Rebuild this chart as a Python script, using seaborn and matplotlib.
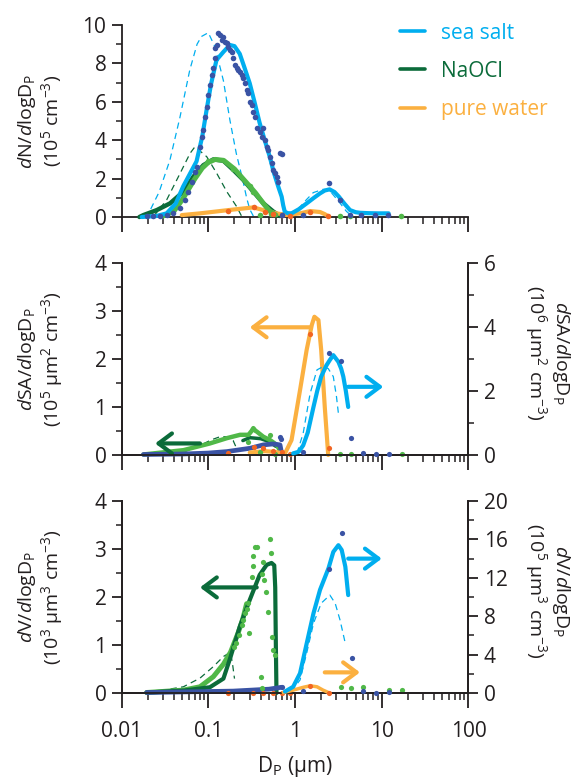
import numpy as np
import pandas as pd
import seaborn as sns
import matplotlib.pyplot as plt
from matplotlib.lines import Line2D
from matplotlib.ticker import LogLocator, MultipleLocator, NullFormatter, FixedLocator

# colours
SEA = "#00aeef"
SEA_DOT = "#3a53a4"
NAOCL = "#0b6b3a"
NAOCL_LT = "#50b848"
WATER = "#fbb040"
WATER_DOT = "#f26522"
INK = "#231f20"

# ---------------- top panel: number (10^5 cm^-3) ----------------
n_ss_fit_d = [0.017, 0.025, 0.033, 0.042, 0.051, 0.062, 0.073, 0.085, 0.0955, 0.107, 0.124, 0.149,
              0.177, 0.2, 0.23, 0.26, 0.30, 0.34, 0.39, 0.45, 0.51, 0.57, 0.64, 0.70, 0.73, 0.76,
              0.82, 0.91, 1.1, 1.36, 1.65, 1.94, 2.2, 2.5, 2.85, 3.2, 3.7, 4.3, 5.0, 5.6, 7, 9, 12]
n_ss_fit_v = [0.0, 0.05, 0.19, 0.7, 1.58, 2.3, 2.9, 4.2, 5.6, 6.9, 8.18, 8.6,
              8.96, 8.9, 8.5, 7.8, 6.96, 6.0, 4.9, 3.95, 3.14, 2.3, 1.58, 1.06, 0.6, 0.28,
              0.2, 0.19, 0.4, 0.71, 1.0, 1.23, 1.38, 1.44, 1.3, 1.06, 0.7, 0.36, 0.25, 0.22, 0.2, 0.19, 0.19]
n_ss_mod1_d = [0.018, 0.021, 0.027, 0.036, 0.047, 0.061, 0.074, 0.083, 0.0997, 0.119, 0.149, 0.177,
               0.21, 0.25, 0.276, 0.30, 0.33]
n_ss_mod1_v = [0.0, 0.3, 1.3, 2.97, 5.2, 7.66, 9.0, 9.4, 9.6, 8.87, 7.1, 5.05, 3.3, 1.9, 1.0, 0.4, 0.05]
n_ss_mod2_d = [0.9, 1.13, 1.35, 1.62, 2.1, 2.4, 2.7, 3.2, 3.9, 4.5]
n_ss_mod2_v = [0.0, 0.5, 0.9, 1.27, 1.44, 1.42, 1.2, 0.8, 0.3, 0.05]
n_ss_obs_d = [0.0194, 0.0232, 0.0277, 0.033, 0.0395, 0.0471, 0.0538, 0.0588, 0.0642, 0.0702, 0.0733,
              0.080, 0.0838, 0.0875, 0.0916, 0.0957, 0.1, 0.1045, 0.109, 0.114, 0.119, 0.119, 0.125,
              0.130, 0.136, 0.1425, 0.149, 0.156, 0.163, 0.170, 0.178, 0.186, 0.194, 0.203, 0.212,
              0.222, 0.232, 0.243, 0.253, 0.265, 0.277, 0.290, 0.303, 0.316, 0.330, 0.345, 0.361,
              0.394, 0.412, 0.431, 0.451, 0.471, 0.492, 0.515, 0.538, 0.562, 0.588, 0.614, 0.642,
              0.671, 0.702, 0.70, 1.25, 2.43, 3.3, 4.3, 5.8, 8.3, 11.9]
n_ss_obs_v = [0.03, 0.03, 0.05, 0.1, 0.19, 0.45, 0.89, 1.32, 1.84, 2.36, 2.62,
              3.66, 4.18, 4.53, 5.23, 5.75, 6.35, 6.88, 7.4, 7.74, 8.26, 8.78, 8.96,
              9.57, 9.48, 9.22, 9.39, 9.13, 9.05, 8.87, 8.7, 8.61, 8.26, 7.92, 7.74,
              7.66, 7.57, 7.4, 7.22, 6.96, 6.61, 6.44, 6.0, 5.83, 5.49, 5.23, 4.62,
              4.44, 4.18, 4.62, 4.01, 3.66, 3.49, 3.14, 2.8, 2.45, 2.27, 2.1, 1.84,
              3.32, 3.30, 0.1, 0.1, 1.79, 0.89, 0.12, 0.1, 0.1, 0.1]
n_na_fit_d = [0.016, 0.0178, 0.0254, 0.0361, 0.0515, 0.0671, 0.0875, 0.114, 0.149, 0.194, 0.253,
              0.33, 0.431, 0.562, 0.671]
n_na_fit_v = [0.0, 0.1, 0.36, 0.71, 1.32, 2.1, 2.7, 3.0, 2.93, 2.45, 1.93, 1.32, 0.71, 0.28, 0.05]
n_na_obs_d = [0.03, 0.04, 0.05, 0.06, 0.07, 0.085, 0.1, 0.12, 0.15, 0.2, 0.25, 0.3, 0.35, 0.4,
              0.45, 0.5, 0.6]
n_na_obs_v = [0.05, 0.3, 0.9, 1.5, 2.0, 2.55, 2.85, 3.0, 2.95, 2.5, 2.0, 1.6, 1.25, 0.9, 0.6, 0.35, 0.1]
n_na_mod_d = [0.0232, 0.033, 0.0471, 0.0615, 0.07, 0.0957, 0.125, 0.163, 0.212, 0.243]
n_na_mod_v = [0.02, 0.89, 2.27, 3.32, 3.66, 3.14, 2.27, 1.32, 0.54, 0.02]
n_na_dot_d = [0.1, 0.194, 0.3, 0.33, 0.39, 0.53, 3.3, 4.3, 16.5]
n_na_dot_v = [2.9, 2.5, 1.6, 1.3, 0.12, 0.18, 0.05, 0.05, 0.05]
n_pw_fit_d = [0.0493, 0.08, 0.17, 0.33, 0.43, 0.614, 0.8, 1.14, 1.49, 1.94, 2.2, 2.45]
n_pw_fit_v = [0.1, 0.19, 0.36, 0.5, 0.36, 0.19, 0.1, 0.19, 0.31, 0.26, 0.15, 0.02]
n_pw_obs_d = [0.17, 0.335, 0.45, 0.56, 0.70, 0.88, 1.49, 2.4]
n_pw_obs_v = [0.33, 0.5, 0.28, 0.16, 0.1, 0.07, 0.28, 0.05]

# ---------------- middle panel: surface ----------------
# left axis (10^5 um^2 cm^-3)
s_pw_fit_d = [0.3, 0.45, 0.6, 0.7, 0.764, 0.91, 1.14, 1.36, 1.56, 1.67, 1.86, 2.0, 2.2, 2.41]
s_pw_fit_v = [0.05, 0.08, 0.06, 0.04, 0.03, 0.31, 1.35, 2.19, 2.71, 2.88, 2.81, 2.19, 1.0, 0.0]
s_pw_obs_d = [0.17, 0.335, 0.43, 0.56, 0.70, 0.88, 1.49, 2.43]
s_pw_obs_v = [0.05, 0.17, 0.14, 0.09, 0.06, 0.03, 2.51, 0.14]
s_na_obs_d = [0.0178, 0.0515, 0.104, 0.163, 0.232, 0.29, 0.315, 0.33, 0.35, 0.36, 0.43, 0.515, 0.614, 0.7]
s_na_obs_v = [0.01, 0.1, 0.24, 0.35, 0.42, 0.42, 0.5, 0.56, 0.5, 0.49, 0.38, 0.31, 0.21, 0.03]
s_na_fit_d = [0.25, 0.3, 0.4, 0.5, 0.6]
s_na_fit_v = [0.3, 0.36, 0.34, 0.28, 0.18]
s_na_mod_d = [0.03, 0.047, 0.08, 0.11, 0.136, 0.16, 0.193, 0.21]
s_na_mod_v = [0.0, 0.03, 0.2, 0.32, 0.38, 0.38, 0.3, 0.15]
s_na_dot_d = [0.29, 0.39, 0.515, 0.58, 3.3, 4.4, 17.2]
s_na_dot_v = [0.28, 0.07, 0.42, 0.03, 0.03, 0.03, 0.03]
s_ss_low_d = [0.0178, 0.05, 0.1, 0.163, 0.303, 0.43, 0.56, 0.67, 0.7]
s_ss_low_v = [0.01, 0.02, 0.04, 0.07, 0.14, 0.21, 0.23, 0.21, 0.03]
# right axis (10^6 um^2 cm^-3)
s_ss_fit_d = [0.95, 1.1, 1.24, 1.4, 1.63, 1.8, 2.0, 2.3, 2.52, 2.76, 3.16, 3.4, 3.6, 3.85, 4.1]
s_ss_fit_v = [0.05, 0.1, 0.3, 0.7, 1.5, 2.0, 2.45, 2.8, 2.97, 3.12, 2.91, 2.7, 2.45, 2.0, 1.5]
s_ss_mod_d = [1.05, 1.24, 1.49, 1.79, 2.1, 2.41, 2.76, 3.0, 3.16]
s_ss_mod_v = [0.05, 0.68, 1.92, 2.66, 2.76, 2.7, 2.45, 1.83, 1.3]
s_ss_obs_d = [0.67, 0.69, 1.25, 2.43, 3.35, 4.4, 6.1, 8.6, 12.2]
s_ss_obs_v = [0.55, 0.5, 0.1, 3.2, 2.95, 0.52, 0.05, 0.03, 0.03]

# ---------------- bottom panel: volume ----------------
# left axis (10^3 um^3 cm^-3)
v_na_fit_d = [0.0194, 0.0515, 0.104, 0.149, 0.18, 0.23, 0.30, 0.39, 0.47, 0.535, 0.575, 0.59, 0.6, 0.61]
v_na_fit_v = [0.01, 0.05, 0.12, 0.3, 0.75, 1.38, 1.94, 2.46, 2.67, 2.71, 2.66, 2.2, 1.0, 0.0]
v_na_obs_d = [0.0194, 0.0515, 0.08, 0.114, 0.149, 0.18, 0.22, 0.25, 0.276]
v_na_obs_v = [0.01, 0.06, 0.13, 0.34, 0.6, 0.85, 1.25, 1.55, 1.86]
v_na_mod_d = [0.021, 0.0515, 0.08, 0.114, 0.149, 0.18, 0.19, 0.2]
v_na_mod_v = [0.01, 0.13, 0.31, 0.55, 0.76, 0.85, 0.6, 0.3]
v_na_dot_d = [0.343, 0.361, 0.515, 0.33, 0.43, 0.53, 0.33, 0.316, 0.41, 0.44, 0.46, 0.29, 0.277,
              0.265, 0.253, 0.243, 0.297, 0.49, 0.54, 0.56, 0.59, 0.4, 0.41, 0.2, 0.21, 0.225,
              3.4, 4.4, 6.1, 12.2, 17.2]
v_na_dot_v = [3.05, 3.05, 3.2, 2.85, 2.74, 2.92, 2.65, 2.42, 2.49, 2.35, 2.11, 1.87, 1.76,
              1.66, 1.52, 1.42, 1.24, 1.69, 1.17, 0.9, 0.79, 0.34, 0.1, 0.95, 1.05, 1.2,
              0.12, 0.1, 0.13, 0.07, 0.07]
v_ss_low_d = [0.0194, 0.194, 0.5, 0.70]
v_ss_low_v = [0.01, 0.04, 0.08, 0.12]
v_pw_obs_d = [0.17, 0.33, 0.43, 0.56, 0.7, 0.88]
v_pw_obs_v = [0.01, 0.01, 0.01, 0.01, 0.01, 0.01]
# right axis (10^5 um^3 cm^-3)
v_ss_fit_d = [0.764, 0.95, 1.14, 1.36, 1.63, 1.94, 2.43, 2.76, 3.16, 3.45, 3.8, 4.1]
v_ss_fit_v = [0.15, 0.65, 2.05, 5.15, 8.3, 10.75, 13.0, 14.7, 15.4, 14.9, 13.15, 10.2]
v_ss_mod_d = [0.9, 1.14, 1.36, 1.63, 2.0, 2.52, 2.9, 3.3, 3.8]
v_ss_mod_v = [0.15, 1.35, 4.15, 7.25, 9.35, 10.2, 9.35, 7.6, 5.15]
v_ss_obs_d = [0.7, 1.25, 2.43, 3.45, 4.5, 6.1, 8.6, 12.2]
v_ss_obs_v = [0.65, 0.2, 12.9, 16.7, 3.6, 0.25, 0.05, 0.1]
v_pw_fit_d = [0.73, 0.95, 1.25, 1.49, 1.79, 2.1, 2.43]
v_pw_fit_v = [0.05, 0.3, 0.6, 0.75, 0.65, 0.3, 0.05]
v_pw_dot_d = [1.49, 2.43]
v_pw_dot_v = [0.75, 0.05]

# arrows: (D start, D end, level)
s_arrow_pw = (1.49, 0.30, 2.66)
s_arrow_na = (0.08, 0.0243, 0.24)
s_arrow_ss = (4.1, 10.4, 2.13)      # right axis
v_arrow_na = (0.361, 0.08, 2.2)
v_arrow_ss = (4.1, 10.0, 14.0)      # right axis
v_arrow_pw = (2.2, 5.6, 2.15)       # right axis

sns.set_style("ticks")
plt.rcParams["font.family"] = ["Open Sans", "DejaVu Sans"]
plt.rcParams["mathtext.fontset"] = "custom"
plt.rcParams["mathtext.rm"] = "Open Sans"
plt.rcParams["mathtext.it"] = "Open Sans:italic"
plt.rcParams["mathtext.bf"] = "Open Sans:bold"
plt.rcParams["text.color"] = INK
plt.rcParams["axes.edgecolor"] = INK
plt.rcParams["xtick.color"] = INK
plt.rcParams["ytick.color"] = INK


def curve(ax, d, v, color, lw, dashed=False, z=2):
    ls = (0, (5, 3.5)) if dashed else "-"
    sns.lineplot(x=d, y=v, ax=ax, color=color, linewidth=lw, sort=False, estimator=None,
                 linestyle=ls, zorder=z, clip_on=False)


def dots(ax, d, v, color, s=14, z=4):
    sns.scatterplot(x=d, y=v, ax=ax, color=color, s=s, linewidth=0, zorder=z, clip_on=False)


def arrow(ax, spec, color):
    d0, d1, lvl = spec
    ax.annotate("", xy=(d1, lvl), xytext=(d0, lvl),
                arrowprops=dict(arrowstyle="->,head_length=0.6,head_width=0.45",
                                color=color, lw=3, mutation_scale=16, shrinkA=0, shrinkB=0),
                zorder=5)


def style_x(ax, labels=False):
    ax.set_xscale("log")
    ax.set_xlim(0.01, 100)
    ax.xaxis.set_major_locator(FixedLocator([0.01, 0.1, 1, 10, 100]))
    ax.xaxis.set_minor_locator(LogLocator(base=10, subs=np.arange(2, 10), numticks=20))
    ax.xaxis.set_minor_formatter(NullFormatter())
    ax.tick_params(axis="x", which="major", length=11, width=1.3, direction="out", pad=9,
                   labelsize=15)
    ax.tick_params(axis="x", which="minor", length=5, width=1.1, direction="out")
    if labels:
        ax.set_xticklabels(["0.01", "0.1", "1", "10", "100"])
    else:
        ax.set_xticklabels([])
    ax.set_xlabel("")


def style_y(ax, top, major, minor, side="left"):
    ax.set_ylim(0, top)
    ax.yaxis.set_major_locator(MultipleLocator(major))
    ax.yaxis.set_minor_locator(MultipleLocator(minor))
    ax.tick_params(axis="y", which="major", length=7, width=1.3, direction="out", pad=4,
                   labelsize=15)
    ax.tick_params(axis="y", which="minor", length=4, width=1.1, direction="out")
    ax.set_ylabel("")
    for sp in ax.spines.values():
        sp.set_linewidth(1.3)


fig = plt.figure(figsize=(5.76, 7.82), dpi=100)
ax_n = fig.add_axes([0.2113, 0.7225, 0.602, 0.2455])
ax_s = fig.add_axes([0.2113, 0.4182, 0.602, 0.2455])
ax_v = fig.add_axes([0.2113, 0.1138, 0.602, 0.2455])
ax_s2 = ax_s.twinx()
ax_v2 = ax_v.twinx()

# ---- top ----
curve(ax_n, n_ss_mod1_d, n_ss_mod1_v, SEA, 0.9, dashed=True, z=2)
curve(ax_n, n_ss_mod2_d, n_ss_mod2_v, SEA, 0.9, dashed=True, z=2)
curve(ax_n, n_na_mod_d, n_na_mod_v, NAOCL, 0.9, dashed=True, z=2)
curve(ax_n, n_na_fit_d, n_na_fit_v, NAOCL, 3.2, z=3)
curve(ax_n, n_na_obs_d, n_na_obs_v, NAOCL_LT, 3.6, z=3.2)
curve(ax_n, n_pw_fit_d, n_pw_fit_v, WATER, 3.0, z=3)
curve(ax_n, n_ss_fit_d, n_ss_fit_v, SEA, 3.0, z=3.5)
dots(ax_n, n_na_dot_d, n_na_dot_v, NAOCL_LT, s=16)
dots(ax_n, n_pw_obs_d, n_pw_obs_v, WATER_DOT, s=16)
dots(ax_n, n_ss_obs_d, n_ss_obs_v, SEA_DOT, s=16)
style_x(ax_n)
style_y(ax_n, 10, 2, 1)
ax_n.spines["top"].set_visible(False)
ax_n.spines["right"].set_visible(False)

# ---- middle ----
curve(ax_s, s_na_mod_d, s_na_mod_v, NAOCL, 0.9, dashed=True, z=2)
curve(ax_s, s_na_fit_d, s_na_fit_v, NAOCL, 2.5, z=3)
curve(ax_s, s_na_obs_d, s_na_obs_v, NAOCL_LT, 3.2, z=3.2)
curve(ax_s, s_ss_low_d, s_ss_low_v, SEA_DOT, 3.4, z=3.4)
curve(ax_s, s_pw_fit_d, s_pw_fit_v, WATER, 3.0, z=3.5)
dots(ax_s, s_na_dot_d, s_na_dot_v, NAOCL_LT)
dots(ax_s, s_pw_obs_d, s_pw_obs_v, WATER_DOT)
arrow(ax_s, s_arrow_pw, WATER)
arrow(ax_s, s_arrow_na, NAOCL)
curve(ax_s2, s_ss_mod_d, s_ss_mod_v, SEA, 0.9, dashed=True, z=2)
curve(ax_s2, s_ss_fit_d, s_ss_fit_v, SEA, 3.0, z=3)
dots(ax_s2, s_ss_obs_d, s_ss_obs_v, SEA_DOT)
arrow(ax_s2, s_arrow_ss, SEA)
style_x(ax_s)
style_y(ax_s, 4, 1, 0.5)
style_y(ax_s2, 6, 2, 1)
ax_s.spines["top"].set_visible(False)
ax_s2.spines["top"].set_visible(False)

# ---- bottom ----
curve(ax_v, v_na_mod_d, v_na_mod_v, NAOCL, 0.9, dashed=True, z=2)
curve(ax_v, v_na_obs_d, v_na_obs_v, NAOCL_LT, 3.6, z=3)
curve(ax_v, v_na_fit_d, v_na_fit_v, NAOCL, 3.0, z=3.2)
curve(ax_v, v_ss_low_d, v_ss_low_v, SEA_DOT, 3.4, z=3.4)
dots(ax_v, v_na_dot_d, v_na_dot_v, NAOCL_LT)
dots(ax_v, v_pw_obs_d, v_pw_obs_v, WATER_DOT)
arrow(ax_v, v_arrow_na, NAOCL)
curve(ax_v2, v_ss_mod_d, v_ss_mod_v, SEA, 0.9, dashed=True, z=2)
curve(ax_v2, v_pw_fit_d, v_pw_fit_v, WATER, 2.5, z=3)
curve(ax_v2, v_ss_fit_d, v_ss_fit_v, SEA, 3.0, z=3)
dots(ax_v2, v_ss_obs_d, v_ss_obs_v, SEA_DOT)
dots(ax_v2, v_pw_dot_d, v_pw_dot_v, WATER_DOT)
arrow(ax_v2, v_arrow_ss, SEA)
arrow(ax_v2, v_arrow_pw, WATER)
style_x(ax_v, labels=True)
style_y(ax_v, 4, 1, 0.5)
style_y(ax_v2, 20, 4, 2)
ax_v.spines["top"].set_visible(False)
ax_v2.spines["top"].set_visible(False)

# axis titles
lab_kw = dict(ha="center", va="center", fontsize=14, linespacing=1.05, multialignment="center")
ax_n.text(-0.235, 0.5, "$d$N/$d$logD$_\\mathrm{P}$\n(10$^5$ cm$^{-3}$)",
          transform=ax_n.transAxes, rotation=90, **lab_kw)
ax_s.text(-0.235, 0.5, "$d$SA/$d$logD$_\\mathrm{P}$\n(10$^5$ \u00b5m$^2$ cm$^{-3}$)",
          transform=ax_s.transAxes, rotation=90, **lab_kw)
ax_v.text(-0.235, 0.5, "$d$V/$d$logD$_\\mathrm{P}$\n(10$^3$ \u00b5m$^3$ cm$^{-3}$)",
          transform=ax_v.transAxes, rotation=90, **lab_kw)
ax_s.text(1.227, 0.53, "$d$SA/$d$logD$_\\mathrm{P}$\n(10$^6$ \u00b5m$^2$ cm$^{-3}$)",
          transform=ax_s.transAxes, rotation=270, **lab_kw)
ax_v.text(1.227, 0.53, "$d$V/$d$logD$_\\mathrm{P}$\n(10$^5$ \u00b5m$^3$ cm$^{-3}$)",
          transform=ax_v.transAxes, rotation=270, **lab_kw)
fig.text(0.5117, 0.013, "D$_\\mathrm{P}$ (\u00b5m)", ha="center", va="baseline", fontsize=15)

handles = [Line2D([0], [0], color=c, lw=2.6) for c in (SEA, NAOCL, WATER)]
fig.legend(handles, ["sea salt", "NaOCl", "pure water"], loc="upper left",
           bbox_to_anchor=(0.695, 0.971), frameon=False, fontsize=15, handlelength=1.2,
           handletextpad=0.75, labelspacing=0.82, borderpad=0, borderaxespad=0,
           labelcolor=[SEA, NAOCL, WATER])

fig.savefig("out.png", dpi=100)
